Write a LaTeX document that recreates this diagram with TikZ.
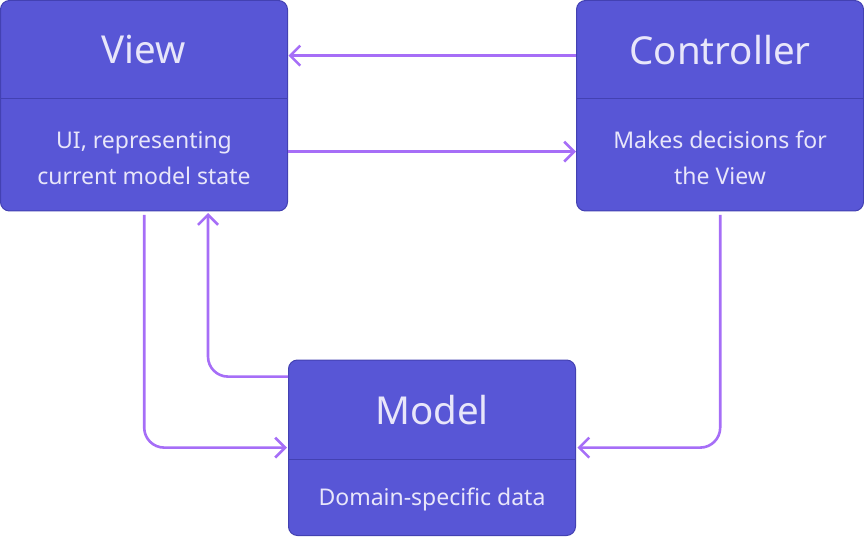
\documentclass[tikz,border=0pt]{standalone}
\usepackage{fontspec}
\setmainfont{Noto Sans}
\usetikzlibrary{arrows.meta,calc}
\definecolor{boxfill}{HTML}{5856D6}
\definecolor{boxline}{HTML}{4341B2}
\definecolor{txt}{HTML}{E8E6FA}
\definecolor{conn}{HTML}{A66EF7}
\begin{document}
\begin{tikzpicture}[x=1pt,y=1pt,
  box/.style={draw=boxline,line width=1pt,fill=boxfill,rounded corners=9pt,inner sep=0pt},
  divider/.style={draw=boxline,line width=1pt},
  title/.style={text=txt,font=\fontsize{38.5}{40}\selectfont,anchor=center},
  sub/.style={text=txt,font=\fontsize{23}{36}\selectfont,align=center,anchor=center},
  conn/.style={draw=conn,line width=2.6pt,rounded corners=20pt,-{Straight Barb[length=10pt,width=20pt,line width=2.6pt]}}
]
\useasboundingbox (0,0) rectangle (864,536);
% boxes
\path[box] (0.5,325) rectangle (287.5,535.5);
\path[box] (576.5,325) rectangle (863.5,535.5);
\path[box] (288.5,0.5) rectangle (575.5,176);
\node[minimum width=288pt,minimum height=211pt,inner sep=0pt,anchor=south west] (V) at (0,325) {};
\node[minimum width=288pt,minimum height=211pt,inner sep=0pt,anchor=south west] (C) at (576,325) {};
\node[minimum width=288pt,minimum height=176pt,inner sep=0pt,anchor=south west] (M) at (288,0) {};
\draw[divider] (0.5,437) -- (287.5,437);
\draw[divider] (576.5,437) -- (863.5,437);
\draw[divider] (288.5,77) -- (575.5,77);
% texts
\node[title] (vt) at (144,486) {View};
\node[title] (ct) at (720,486) {Controller};
\node[title] (mt) at (432,126) {Model};
\node[sub] (vs) at (144,378) {UI, representing\\current model state};
\node[sub] (cs) at (720,378) {Makes decisions for\\the View};
\node[sub] (ms) at (432,37) {Domain-specific data};
% connectors
\draw[conn] ($(C.north west)+(0,-56)$) -- ($(V.north east)+(0,-56)$);
\draw[conn] ($(V.north east)+(0,-152)$) -- ($(C.north west)+(0,-152)$);
\draw[conn] ($(V.south)+(0,-4)$) |- ($(M.north west)+(-1,-88)$);
\draw[conn] ($(M.north west)+(0,-17)$) -| ($(V.south west)+(208,-2)$);
\draw[conn] ($(C.south)+(0,-4)$) |- ($(M.north east)+(1,-88)$);
\end{tikzpicture}
\end{document}
